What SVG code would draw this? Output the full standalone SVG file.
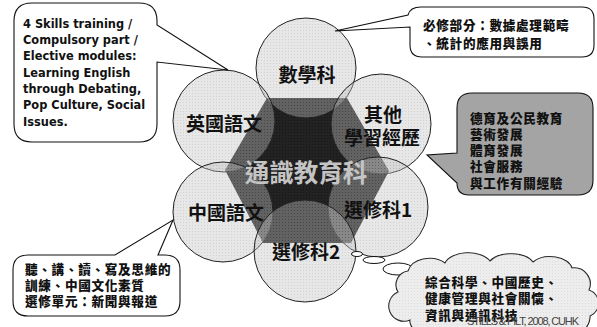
<svg xmlns="http://www.w3.org/2000/svg" width="597" height="327" viewBox="0 0 597 327">
<defs>
<pattern id="dots" width="3" height="3" patternUnits="userSpaceOnUse"><rect width="3" height="3" fill="#c2c2c2"/><rect width="1" height="1" fill="#8e8e8e"/></pattern>
<pattern id="hexdots" width="3" height="3" patternUnits="userSpaceOnUse"><rect width="3" height="3" fill="#222"/><rect width="1" height="1" fill="#161616"/></pattern>
<style>
.circ{fill:url(#dots);fill-opacity:0.4;stroke:#222;stroke-width:1}
.lbl{font-family:"Noto Sans CJK TC","Noto Sans CJK SC",sans-serif;font-weight:bold;font-size:19px;fill:#111;text-anchor:middle}
.call{fill:#fff;stroke:#111;stroke-width:1.1}
.ct{font-family:"Noto Sans CJK TC","Noto Sans CJK SC",sans-serif;font-weight:900;font-size:12.6px;letter-spacing:0.7px;fill:#111}
.en{font-family:"DejaVu Sans",sans-serif;font-weight:bold;font-size:11.4px;fill:#111}
</style>
</defs>
<rect width="597" height="327" fill="#fff"/>

<g id="hexagon">
<polygon points="267,98 347,98 389,171 351,243 263,243 225,170" fill="url(#hexdots)"/>
</g>

<g id="circles">
<g id="n-math"><circle class="circ" cx="306" cy="68" r="50"/></g>
<g id="n-english"><circle class="circ" cx="224" cy="121" r="51"/></g>
<g id="n-ole"><circle class="circ" cx="381" cy="124" r="50"/></g>
<g id="n-chinese"><circle class="circ" cx="223" cy="212" r="50"/></g>
<g id="n-elective1"><circle class="circ" cx="378" cy="207" r="50"/></g>
<g id="n-elective2"><circle class="circ" cx="305" cy="251" r="51"/></g>
</g>

<g id="n-ls"><text x="306" y="182" font-family="Noto Sans CJK TC, Noto Sans CJK SC, sans-serif" font-weight="bold" font-size="24.5" fill="#c4c4c4" text-anchor="middle">通識教育科</text></g>

<g id="labels">
<text class="lbl" x="307" y="82">數學科</text>
<text class="lbl" x="224" y="131">英國語文</text>
<text class="lbl" x="383" y="122">其他</text>
<text class="lbl" x="382" y="145">學習經歷</text>
<text class="lbl" x="226" y="220">中國語文</text>
<text class="lbl" x="378" y="217">選修科1</text>
<text class="lbl" x="306" y="259">選修科2</text>
</g>

<g id="connectors" fill="#fff" stroke="#111" stroke-width="1">
<ellipse cx="357" cy="254" rx="5.5" ry="2.5"/>
<ellipse cx="374" cy="260" rx="11" ry="3.5"/>
<ellipse cx="398" cy="269" rx="15" ry="6"/>
</g>

<g id="callout-english">
<path class="call" d="M32,3 H139 Q157,3 157,21 V25 L228,70 L157,62 V124 Q157,142 139,142 H32 Q14,142 14,124 V21 Q14,3 32,3 Z"/>
<text class="en" x="23" y="28">4 Skills training /</text>
<text class="en" x="23" y="44">Compulsory part /</text>
<text class="en" x="23" y="60">Elective modules:</text>
<text class="en" x="23" y="77">Learning English</text>
<text class="en" x="23" y="93">through Debating,</text>
<text class="en" x="23" y="109">Pop Culture, Social</text>
<text class="en" x="23" y="126">Issues.</text>
</g>

<g id="callout-math">
<path class="call" d="M421,7 H582 Q594,7 594,19 V45 Q594,57 582,57 H422 Q410,57 410,45 V27 L335,31 L408,15 Q410,7 421,7 Z"/>
<text class="ct" x="423" y="30">必修部分：數據處理範疇</text>
<text class="ct" x="423" y="48">、統計的應用與誤用</text>
</g>

<g id="callout-ole">
<path d="M472,93 H578 Q593,93 593,108 V180 Q593,195 578,195 H469 Q457,195 457,183 L427,155 L457,153 V108 Q457,93 472,93 Z" fill="#a4a4a4" stroke="#111" stroke-width="1.1"/>
<text class="ct" x="470" y="123">德育及公民教育</text>
<text class="ct" x="470" y="139">藝術發展</text>
<text class="ct" x="470" y="155">體育發展</text>
<text class="ct" x="470" y="171">社會服務</text>
<text class="ct" x="470" y="188">與工作有關經驗</text>
</g>

<g id="callout-chinese">
<path class="call" d="M28,255 H115 L173,220 L158,255 H165 Q180,255 180,270 V301 Q180,316 165,316 H28 Q13,316 13,301 V270 Q13,255 28,255 Z"/>
<text class="ct" x="25" y="274">聽、講、讀、寫及思維的</text>
<text class="ct" x="25" y="290">訓練、中國文化素質</text>
<text class="ct" x="25" y="306">選修單元：新聞與報道</text>
</g>

<g id="callout-elective">
<path d="M398,292 A14,14 0 0 1 408,271 A22,16 0 0 1 445,263 A24,14 0 0 1 490,261 A24,14 0 0 1 533,262 A22,14 0 0 1 572,268 A16,16 0 0 1 589,290 A14,14 0 0 1 590,316 A24,20 0 0 1 555,334 L440,334 A22,14 0 0 1 410,320 A12,12 0 0 1 398,292 Z" fill="#fff" stroke="#111" stroke-width="1.1"/>
<path d="M398,292 A14,14 0 0 1 408,271 A22,16 0 0 1 445,263 A24,14 0 0 1 490,261 A24,14 0 0 1 533,262 A22,14 0 0 1 572,268 A16,16 0 0 1 589,290 A14,14 0 0 1 590,316 A24,20 0 0 1 555,334 L440,334 A22,14 0 0 1 410,320 A12,12 0 0 1 398,292 Z" fill="url(#dots)" fill-opacity="0.3" stroke="none"/>
<text class="ct" x="425" y="287" font-size="13.6">綜合科學、中國歷史、</text>
<text class="ct" x="425" y="303" font-size="13.6">健康管理與社會關懷、</text>
<text class="ct" x="425" y="320" font-size="13.6">資訊與通訊科技</text>
</g>

<text x="467" y="325" font-family="Liberation Sans, Arial, sans-serif" font-size="11" fill="#444" textLength="112">STILLS &amp; PILT, 2008, CUHK</text>
</svg>
